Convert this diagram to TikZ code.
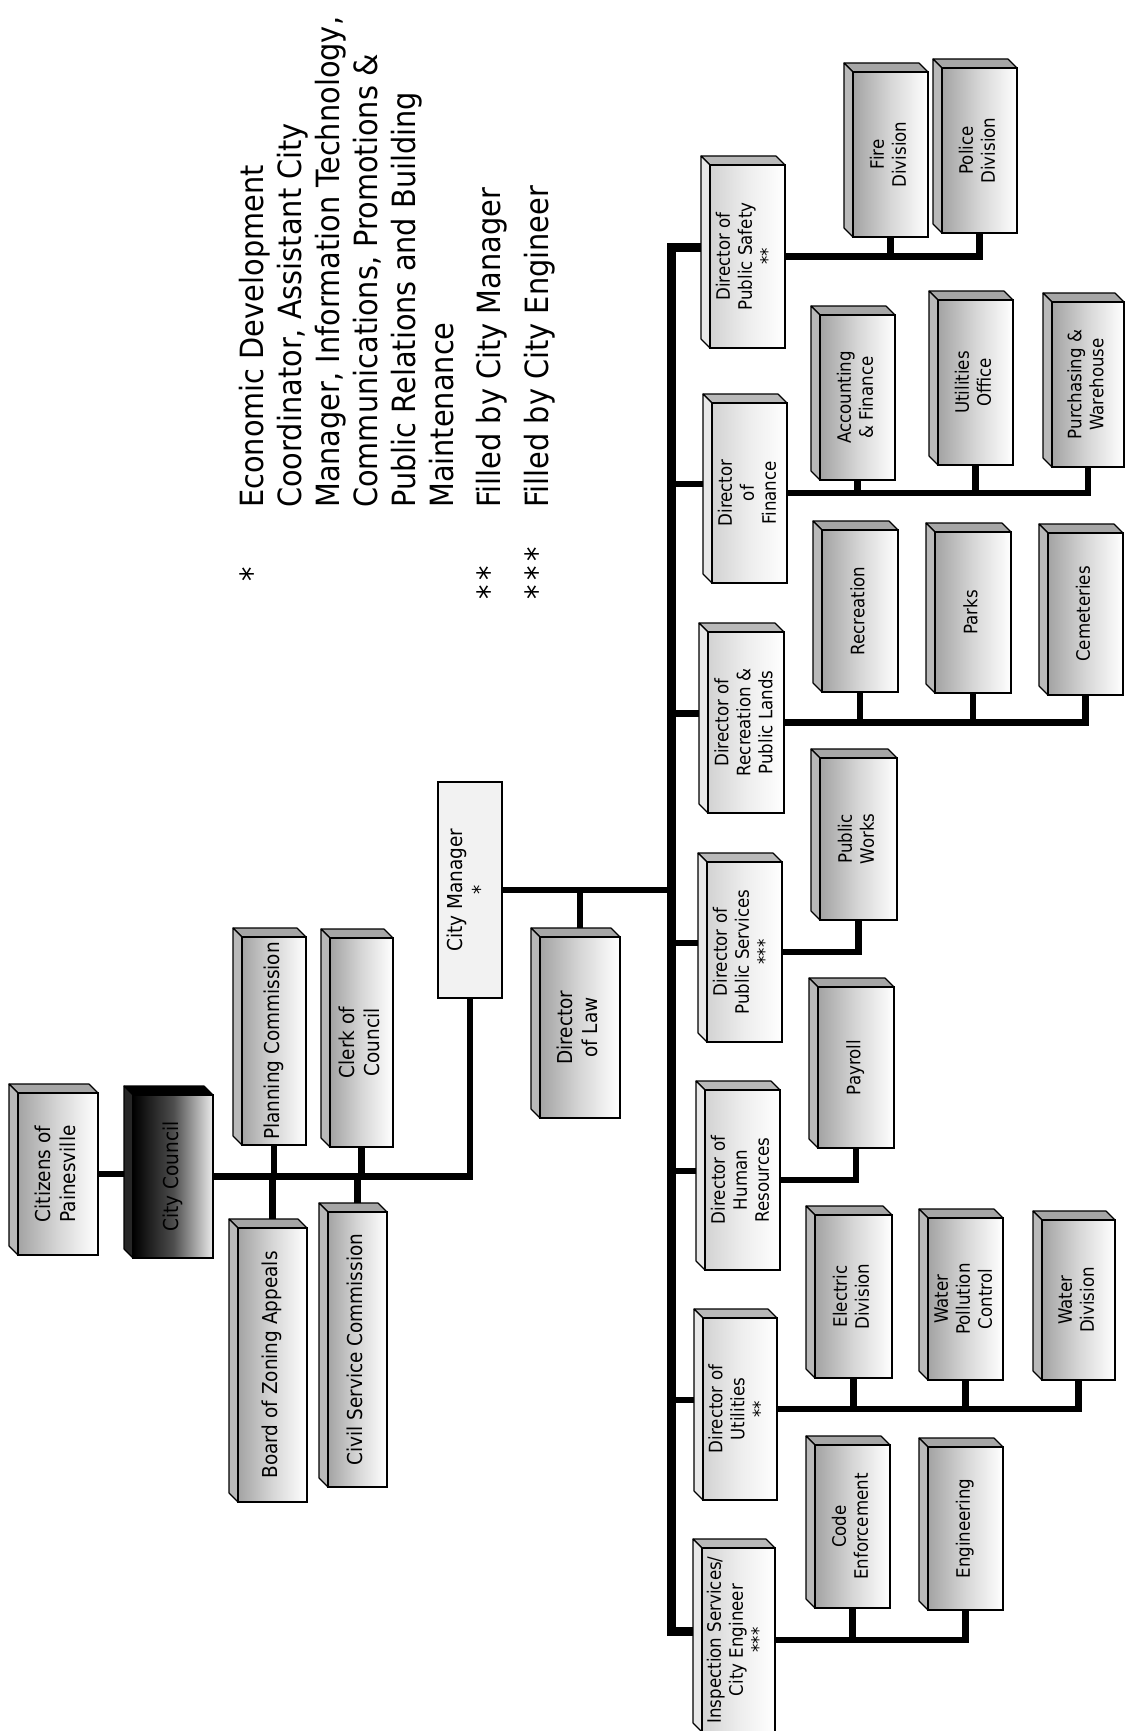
\documentclass[tikz,border=0pt]{standalone}
\usepackage{fontspec}
\setmainfont{DejaVu Sans}[FakeStretch=0.9]
\usepackage{graphicx}
\usetikzlibrary{backgrounds}
\newcommand\fA{\fontsize{20.5}{25}\selectfont}
\newcommand\fB{\fontsize{18.5}{22}\selectfont}
\newcommand\fL{\fontsize{32}{38}\selectfont}
\newcommand\rt[1]{\rotatebox{90}{\begin{tabular}{@{}c@{}}#1\end{tabular}}}
% #1 style, #2 font, #3 name, #4 x1, #5 y1, #6 x2, #7 y2, #8 text
\newcommand\tdbox[8]{%
 \filldraw[#1 top] (#4,#5) -- ({#4-9},{#5-9}) -- ({#6-9},{#5-9}) -- (#6,#5) -- cycle;
 \filldraw[#1 left] (#4,#5) -- ({#4-9},{#5-9}) -- ({#4-9},{#7-9}) -- (#4,#7) -- cycle;
 \node[#1, font=#2, minimum width={(#6-#4)*1pt}, minimum height={(#7-#5)*1pt}] (#3) at ({(#4+#6)/2},{(#5+#7)/2}) {\rt{#8}};
 \coordinate (#3-back) at ({#4-9},{(#5+#7)/2-9});
 \coordinate (#3-top) at ({(#4+#6)/2},{#5-9});
}
\begin{document}
\begin{tikzpicture}[x=1pt, y=-1pt,
 bev/.style={draw=black, line width=1.1pt, line join=round},
 sub/.style={draw=black, line width=1.5pt, inner sep=0pt, left color=gray!72, right color=white, middle color=gray!32},
 sub top/.style={bev, fill=gray!70},
 sub left/.style={bev, fill=gray!55},
 dir/.style={draw=black, line width=1.5pt, inner sep=0pt, left color=gray!35, right color=white, middle color=gray!14},
 dir top/.style={bev, fill=gray!55},
 dir left/.style={bev, fill=gray!18},
 dark/.style={draw=black, line width=1.5pt, inner sep=0pt, left color=black, right color=gray!15, middle color=gray!60!black},
 dark top/.style={bev, fill=black},
 dark left/.style={bev, fill=black!85},
 flat/.style={draw=black, line width=1.5pt, inner sep=0pt, fill=gray!10},
 conn/.style={line width=6.5pt},
 trunk/.style={line width=9pt},
 leg/.style={rotate=90, anchor=base west, font=\fL, inner sep=0pt}]
\useasboundingbox (0,0) rectangle (1126,1731);

% legend
\node[leg] (l1) at (263,508) {Economic Development};
\node[leg] (l2) at (301,508) {Coordinator, Assistant City};
\node[leg] (l3) at (339,508) {Manager, Information Technology,};
\node[leg] (l4) at (377,508) {Communications, Promotions \&};
\node[leg] (l5) at (415,508) {Public Relations and Building};
\node[leg] (l6) at (453,508) {Maintenance};
\node[leg] (l7) at (500,508) {Filled by City Manager};
\node[leg] (l8) at (548,508) {Filled by City Engineer};
\node[leg] (a1) at (263,582) {*};
\node[leg] (a2) at (500,600) {*\kern5pt*};
\node[leg] (a3) at (548,600) {*\kern5pt*\kern5pt*};

% upper part
\tdbox{sub}{\fA}{cit}{18}{1093}{98}{1255}{Citizens of\\Painesville}
\tdbox{dark}{\fA}{cc}{133}{1095}{213}{1258}{City Council}
\tdbox{sub}{\fA}{plan}{242}{937}{306}{1145}{Planning Commission}
\tdbox{sub}{\fA}{clerk}{330}{938}{393}{1147}{Clerk of\\Council}
\tdbox{sub}{\fA}{bza}{238}{1228}{307}{1502}{Board of Zoning Appeals}
\tdbox{sub}{\fA}{csc}{328}{1212}{387}{1487}{Civil Service Commission}
\node[flat, font=\fA, minimum width=64pt, minimum height=216pt] (cm) at (470,890) {\rt{City Manager\\ {}*}};
\tdbox{sub}{\fA}{law}{540}{937}{620}{1118}{Director\\of Law}

% directors
\tdbox{dir}{\fB}{ps}{710}{165}{785}{348}{Director of\\Public Safety\\ {}**}
\tdbox{dir}{\fB}{fin}{712}{403}{787}{583}{Director\\of\\Finance}
\tdbox{dir}{\fB}{rec}{708}{632}{784}{813}{Director of\\Recreation \&\\Public Lands}
\tdbox{dir}{\fB}{pserv}{707}{862}{782}{1042}{Director of\\Public Services\\ {}***}
\tdbox{dir}{\fB}{hr}{705}{1090}{780}{1270}{Director of\\Human\\Resources}
\tdbox{dir}{\fB}{util}{703}{1318}{777}{1500}{Director of\\Utilities\\ {}**}
\tdbox{dir}{\fB}{insp}{702}{1548}{775}{1732}{Inspection Services/\\City Engineer\\ {}***}

% divisions
\tdbox{sub}{\fB}{fire}{853}{72}{928}{237}{Fire\\Division}
\tdbox{sub}{\fB}{police}{942}{68}{1017}{233}{Police\\Division}
\tdbox{sub}{\fB}{acc}{820}{315}{895}{480}{Accounting\\\& Finance}
\tdbox{sub}{\fB}{uoff}{938}{300}{1013}{465}{Utilities\\Office}
\tdbox{sub}{\fB}{purch}{1052}{302}{1124}{467}{Purchasing \&\\Warehouse}
\tdbox{sub}{\fB}{recr}{822}{530}{898}{692}{Recreation}
\tdbox{sub}{\fB}{parks}{935}{532}{1011}{693}{Parks}
\tdbox{sub}{\fB}{cem}{1048}{533}{1123}{695}{Cemeteries}
\tdbox{sub}{\fB}{pw}{820}{758}{897}{920}{Public\\Works}
\tdbox{sub}{\fB}{pay}{818}{987}{894}{1148}{Payroll}
\tdbox{sub}{\fB}{elec}{815}{1215}{892}{1378}{Electric\\Division}
\tdbox{sub}{\fB}{wpc}{928}{1218}{1003}{1380}{Water\\Pollution\\Control}
\tdbox{sub}{\fB}{wdiv}{1042}{1220}{1115}{1380}{Water\\Division}
\tdbox{sub}{\fB}{code}{815}{1445}{890}{1608}{Code\\Enforcement}
\tdbox{sub}{\fB}{eng}{928}{1447}{1003}{1610}{Engineering}

\coordinate (tr) at (671,0);

\begin{pgfonlayer}{background}
\draw[conn] (cit.east) -- (cit.east -| cc-back);
\draw[conn] (cc.east) -| (cm.south);
\draw[conn] (plan.south) -- (plan.south |- cc.east);
\draw[conn] (clerk.south) -- (clerk.south |- cc.east);
\draw[conn] (bza-top) -- (bza-top |- cc.east);
\draw[conn] (csc-top) -- (csc-top |- cc.east);
\draw[conn] (cm.east) -- (cm.east -| tr);
\draw[conn] (law-top) -- (law-top |- cm.east);
\draw[trunk] (ps-back) -- (ps-back -| tr) -- (insp-back -| tr) -- (insp-back);
\foreach \nm in {fin,rec,pserv,hr,util} \draw[conn] (\nm-back -| tr) -- (\nm-back);
\draw[conn] (ps.east) -| (police.south);
\draw[conn] (fire.south) -- (fire.south |- ps.east);
\draw[conn] (fin.east) -| (purch.south);
\draw[conn] (acc.south) -- (acc.south |- fin.east);
\draw[conn] (uoff.south) -- (uoff.south |- fin.east);
\draw[conn] (rec.east) -| (cem.south);
\draw[conn] (recr.south) -- (recr.south |- rec.east);
\draw[conn] (parks.south) -- (parks.south |- rec.east);
\draw[conn] (pserv.east) -| (pw.south);
\draw[conn] (hr.east) -| (pay.south);
\draw[conn] (util.east) -| (wdiv.south);
\draw[conn] (elec.south) -- (elec.south |- util.east);
\draw[conn] (wpc.south) -- (wpc.south |- util.east);
\draw[conn] (insp.east) -| (eng.south);
\draw[conn] (code.south) -- (code.south |- insp.east);
\end{pgfonlayer}
\end{tikzpicture}
\end{document}
